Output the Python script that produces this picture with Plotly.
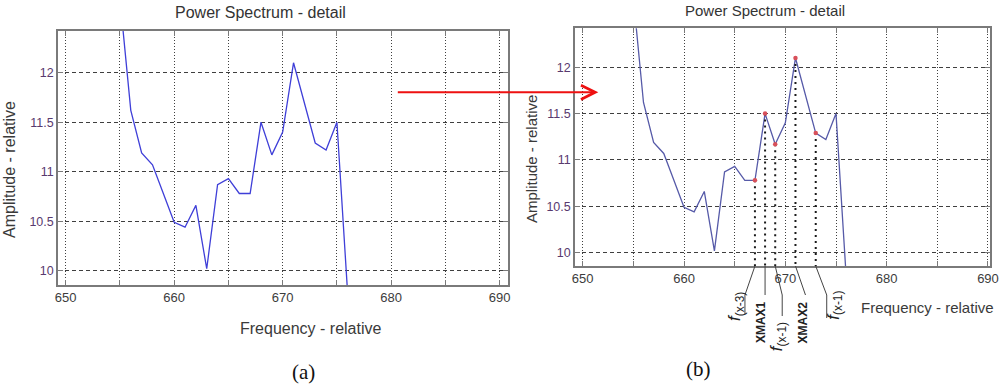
import plotly.graph_objects as go

# ---------------- data ----------------
freq = [655, 656, 657, 658, 659, 660, 661, 662, 663, 664, 665,
        666, 667, 668, 669, 670, 671, 672, 673, 674, 675, 676]
amp = [12.75, 11.62, 11.19, 11.07, 10.78, 10.49, 10.44, 10.66, 10.02, 10.87, 10.93,
       10.78, 10.78, 11.50, 11.17, 11.40, 12.10, 11.70, 11.29, 11.22, 11.50, 9.75]

marked_freq = [667, 668, 669, 671, 673]
marked_labels = ["<i>f</i><sub>(x-3)</sub>", "<b>XMAX1</b>", "<i>f</i><sub>(x-1)</sub>",
                 "<b>XMAX2</b>", "<i>f</i><sub>(x-1)</sub>"]

x_tickvals = [650, 655, 660, 665, 670, 675, 680, 685, 690]
x_ticktext = ["650", "", "660", "", "670", "", "680", "", "690"]
y_tickvals = [10, 10.5, 11, 11.5, 12]
y_ticktext = ["10", "10.5", "11", "11.5", "12"]

title_text = "Power Spectrum - detail"
xtitle_text = "Frequency - relative"
ytitle_text = "Amplitude - relative"
captions = ["(a)", "(b)"]

# ---------------- layout constants ----------------
W, H = 1000, 385
dom_x1 = [0.058, 0.508]
dom_y1 = [1 - 285 / H, 1 - 31 / H]
dom_x2 = [0.575, 0.990]
dom_y2 = [1 - 266 / H, 1 - 28.3 / H]
xr1 = [649.29, 690.77]
yr1 = [9.856, 12.421]
xr2 = [649.24, 690.2]
yr2 = [9.856, 12.42]

FONT = "Liberation Sans, Arial, sans-serif"
SERIF = "Liberation Serif, Times New Roman, serif"

fig = go.Figure()

fig.add_trace(go.Scatter(x=freq, y=amp, mode="lines", xaxis="x", yaxis="y",
                         line=dict(color="#3f3fd8", width=1.3), showlegend=False,
                         hoverinfo="skip"))
fig.add_trace(go.Scatter(x=freq, y=amp, mode="lines", xaxis="x2", yaxis="y2",
                         line=dict(color="#565aa8", width=1.3), showlegend=False,
                         hoverinfo="skip"))

# dotted drop lines from marked points
amp_of = dict(zip(freq, amp))
dx, dy = [], []
for f in marked_freq:
    dx += [f, f, None]
    dy += [amp_of[f], yr2[0], None]
fig.add_trace(go.Scatter(x=dx, y=dy, mode="lines", xaxis="x2", yaxis="y2",
                         line=dict(color="#1a1a1a", width=2, dash="2px,4px"),
                         showlegend=False, hoverinfo="skip"))
fig.add_trace(go.Scatter(x=marked_freq, y=[amp_of[f] for f in marked_freq],
                         mode="markers", xaxis="x2", yaxis="y2",
                         marker=dict(color="#d8505a", size=4.5), showlegend=False,
                         hoverinfo="skip"))

def xaxis_cfg(dom, rng, anchor):
    return dict(domain=dom, range=rng, anchor=anchor, tickmode="array",
                tickvals=x_tickvals, ticktext=x_ticktext, automargin=False,
                showgrid=True, gridcolor="#3f3f3f", gridwidth=1, griddash="1px,2px",
                showline=True, linecolor="#7a7a7a", linewidth=1.5, mirror="ticks",
                ticks="inside", ticklen=5, tickcolor="#7a7a7a",
                tickfont=dict(family=FONT, size=13, color="#3c3c3c"),
                zeroline=False, fixedrange=True)

def yaxis_cfg(dom, rng, anchor):
    return dict(domain=dom, range=rng, anchor=anchor, tickmode="array",
                tickvals=y_tickvals, ticktext=y_ticktext, automargin=False,
                showgrid=True, gridcolor="#3f3f3f", gridwidth=1, griddash="4px,3px",
                showline=True, linecolor="#7a7a7a", linewidth=1.5, mirror="ticks",
                ticks="inside", ticklen=5, tickcolor="#7a7a7a",
                tickfont=dict(family=FONT, size=12.5, color="#583a6e"),
                zeroline=False, fixedrange=True)

def txt(text, px, py, size, family=FONT, color="#333333", angle=0):
    return dict(text=text, x=px / W, y=1 - py / H, xref="paper", yref="paper",
                xanchor="center", yanchor="middle", textangle=angle,
                showarrow=False, font=dict(family=family, size=size, color=color))

annotations = [
    txt(title_text, 260, 12, 16),
    txt(title_text, 765, 10, 15),
    txt(xtitle_text, 310, 328, 16, color="#3a3a3a"),
    txt(xtitle_text, 927, 307, 15, color="#3a3a3a"),
    txt(ytitle_text, 10, 170, 16, color="#3a3a3a", angle=-90),
    txt(ytitle_text, 531, 159, 15, color="#3a3a3a", angle=-90),
    txt(captions[0], 303, 372, 21, family=SERIF, color="#111111"),
    txt(captions[1], 698, 369, 21, family=SERIF, color="#111111"),
    # red arrow between panels
    dict(text="", x=598.3 / W, y=1 - 92.3 / H, xref="paper", yref="paper",
         ax=-202, ay=0, axref="pixel", ayref="pixel",
         showarrow=True, arrowhead=5, arrowsize=1.4, arrowwidth=2,
         arrowcolor="#ee1111", standoff=0, startstandoff=0),
]

# leader lines and labels under the right axis (pixel offsets from anchor)
leader_pts = [[(0, 0), (-10, -29), (-10, -48)],
              [(0, 0), (0, -29)],
              [(0, 0), (7, -29), (7, -50)],
              [(0, 0), (10, -29)],
              [(0, 0), (11, -29), (11, -52)]]
label_shift = [(-19, -40), (-4, -56), (3, -71), (8, -56), (19, -39)]

shapes = []
for f, pts in zip(marked_freq, leader_pts):
    for (x0, y0), (x1, y1) in zip(pts[:-1], pts[1:]):
        shapes.append(dict(type="line", xref="x2", yref="paper",
                           xsizemode="pixel", ysizemode="pixel",
                           xanchor=f, yanchor=dom_y2[0],
                           x0=x0, x1=x1, y0=y0, y1=y1,
                           line=dict(color="#444444", width=1)))

for f, lab, (sx, sy) in zip(marked_freq, marked_labels, label_shift):
    is_x = lab.startswith("<b>")
    annotations.append(dict(text=lab, x=f, y=dom_y2[0], xref="x2", yref="paper",
                            xshift=sx, yshift=sy, textangle=-90, showarrow=False,
                            xanchor="center", yanchor="middle",
                            font=dict(family=FONT, size=12 if is_x else 17,
                                      color="#222222")))

fig.update_layout(
    width=W, height=H, margin=dict(l=0, r=0, t=0, b=0, autoexpand=False),
    paper_bgcolor="white", plot_bgcolor="white",
    xaxis=xaxis_cfg(dom_x1, xr1, "y"),
    yaxis=yaxis_cfg(dom_y1, yr1, "x"),
    xaxis2=xaxis_cfg(dom_x2, xr2, "y2"),
    yaxis2=yaxis_cfg(dom_y2, yr2, "x2"),
    annotations=annotations,
    shapes=shapes,
    showlegend=False,
)

fig.write_html("out.html", config={"displayModeBar": False},
               post_script="document.body.style.margin='0';document.body.style.overflow='hidden';")
